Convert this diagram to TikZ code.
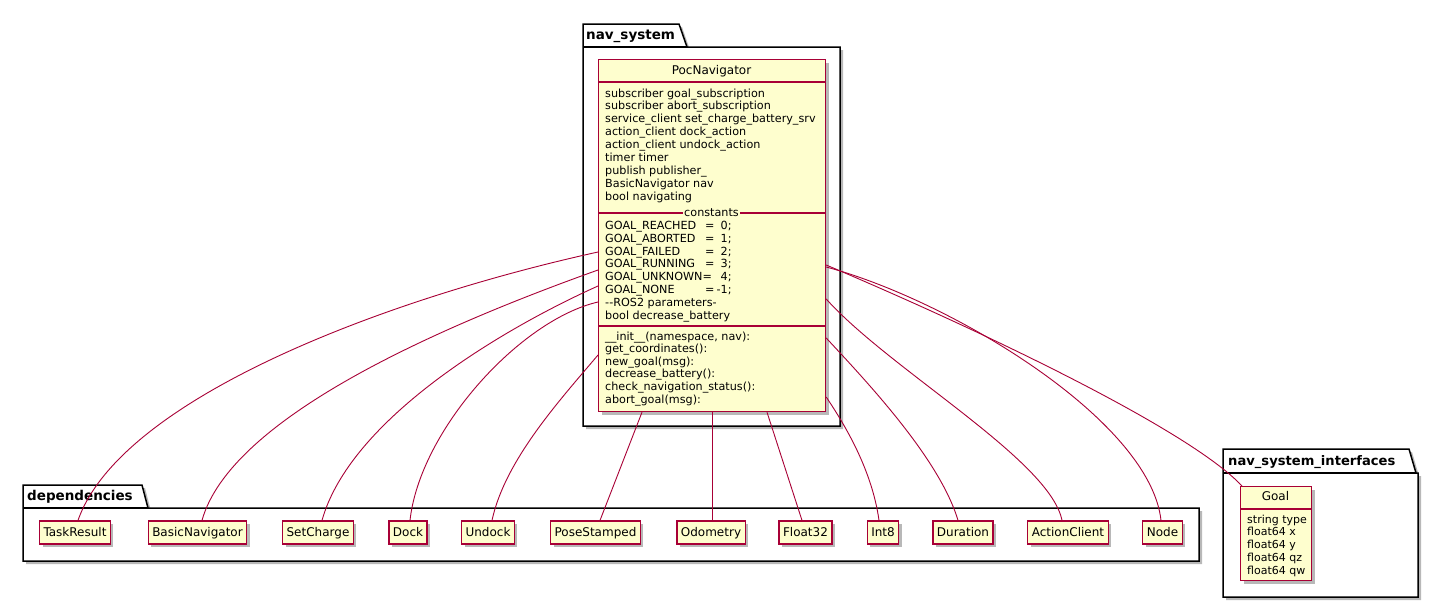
\documentclass[tikz,border=0pt]{standalone}
\usepackage{fontspec}
\setmainfont{DejaVu Sans}
\usetikzlibrary{calc,shadows}
\definecolor{umlfill}{HTML}{FEFECE}
\definecolor{umlline}{HTML}{A80036}
\begin{document}
\begin{tikzpicture}[x=1pt,y=-1pt,
  softshadow/.style={drop shadow={shadow xshift=3pt,shadow yshift=-3pt,fill=black,opacity=0.28}},
  pkgline/.style={draw=black,line width=1.5pt,fill=white,line join=miter,softshadow},
  pkgtitle/.style={anchor=base west,inner sep=0pt,font=\fontsize{13.5}{16}\selectfont\bfseries},
  classbox/.style={draw=umlline,fill=umlfill,line width=1.2pt,rectangle,inner sep=0pt,anchor=north west,softshadow},
  sepline/.style={draw=umlline,line width=1.2pt},
  depbox/.style={draw=umlline,fill=umlfill,line width=1.2pt,rectangle,inner xsep=4pt,inner ysep=0pt,
    minimum height=23pt,text height=9.5pt,text depth=2pt,font=\fontsize{12}{14}\selectfont,softshadow},
  member/.style={anchor=base west,inner sep=0pt,font=\fontsize{11.2}{13}\selectfont},
  cname/.style={anchor=base,inner sep=0pt,font=\fontsize{12}{14}\selectfont},
  link/.style={draw=umlline,line width=0.9pt},
]
\useasboundingbox (0,0) rectangle (1439,608);
\fill[white] (0,0) rectangle (1439,608);

% ---- packages ----
\path[pkgline] (583,24) -- (679,24) -- (687,47) -- (840,47) -- (840,426) -- (583,426) -- cycle;
\draw[line width=1.5pt] (583,47) -- (687,47);
\node[pkgtitle] (pkgnav) at (586,39) {nav\_system};

\path[pkgline] (23,485) -- (142,485) -- (148,508) -- (1199,508) -- (1199,561) -- (23,561) -- cycle;
\draw[line width=1.5pt] (23,508) -- (148,508);
\node[pkgtitle] (pkgdep) at (27,500) {dependencies};

\path[pkgline] (1223,449) -- (1409,449) -- (1416,473) -- (1418,473) -- (1418,597) -- (1223,597) -- cycle;
\draw[line width=1.5pt] (1223,473) -- (1416,473);
\node[pkgtitle,font=\fontsize{13.1}{16}\selectfont\bfseries] (pkgif) at (1228,465) {nav\_system\_interfaces};

% ---- class boxes (shapes only, text added later) ----
\node[classbox,minimum width=227pt,minimum height=352pt] (pn) at (598,59) {};
\node[classbox,minimum width=71pt,minimum height=94pt] (goal) at (1240,486) {};

% ---- dependency boxes ----
\node[depbox] (taskresult) at (75,532.5) {TaskResult};
\node[depbox] (basicnav) at (197.5,532.5) {BasicNavigator};
\node[depbox] (setcharge) at (318,532.5) {SetCharge};
\node[depbox] (dock) at (408,532.5) {Dock};
\node[depbox] (undock) at (488,532.5) {Undock};
\node[depbox] (posestamped) at (595.5,532.5) {PoseStamped};
\node[depbox] (odometry) at (711,532.5) {Odometry};
\node[depbox] (float32) at (805.5,532.5) {Float32};
\node[depbox] (int8) at (883,532.5) {Int8};
\node[depbox] (duration) at (963,532.5) {Duration};
\node[depbox] (actionclient) at (1068,532.5) {ActionClient};
\node[depbox] (rosnode) at (1162.5,532.5) {Node};

% ---- connectors ----
\draw[link] ($(pn.north west)+(0,193)$) .. controls (380,300) and (120,400) .. ([xshift=3pt]taskresult.north);
\draw[link] ($(pn.north west)+(0,211)$) .. controls (430,330) and (230,420) .. ([xshift=4.5pt]basicnav.north);
\draw[link] ($(pn.north west)+(0,227)$) .. controls (500,330) and (350,420) .. ([xshift=4pt]setcharge.north);
\draw[link] ($(pn.north west)+(0,243)$) .. controls (520,320) and (420,430) .. ([xshift=2pt]dock.north);
\draw[link] ($(pn.north west)+(0,296)$) .. controls (560,400) and (505,460) .. ([xshift=4pt]undock.north);
\draw[link] ($(pn.south west)+(44,0)$) -- ([xshift=4.5pt]posestamped.north);
\draw[link] ($(pn.south west)+(114,0)$) -- ([xshift=1pt]odometry.north);
\draw[link] ($(pn.south west)+(169,0)$) -- ([xshift=-3.5pt]float32.north);
\draw[link] ($(pn.north east)+(0,338)$) .. controls (845,425) and (872,470) .. ([xshift=-4pt]int8.north);
\draw[link] ($(pn.north east)+(0,279)$) .. controls (870,385) and (940,460) .. ([xshift=-5pt]duration.north);
\draw[link] ($(pn.north east)+(0,240)$) .. controls (890,370) and (1050,460) .. ([xshift=-6pt]actionclient.north);
\draw[link] ($(pn.north east)+(0,208)$) .. controls (950,300) and (1150,420) .. ([xshift=-1.5pt]rosnode.north);
\draw[link] ($(pn.north east)+(0,206)$) .. controls (980,330) and (1190,430) .. ($(goal.north west)+(2,0)$);

% ---- PocNavigator compartments ----
\draw[sepline] ($(pn.north west)+(0,23)$) -- ($(pn.north east)+(0,23)$);
\draw[sepline] ($(pn.north west)+(0,154)$) -- ($(pn.north east)+(0,154)$);
\draw[sepline] ($(pn.north west)+(0,267)$) -- ($(pn.north east)+(0,267)$);
\node[cname] (pnname) at (711.5,74) {PocNavigator};
\node[member,anchor=base,fill=umlfill,inner xsep=1.5pt] (pnconst) at (711.5,216.5) {constants};

\foreach \i/\txt in {0/subscriber goal\_subscription,
                     1/subscriber abort\_subscription,
                     2/service\_client set\_charge\_battery\_srv,
                     3/action\_client dock\_action,
                     4/action\_client undock\_action,
                     5/timer timer,
                     6/publish publisher\_,
                     7/BasicNavigator nav,
                     8/bool navigating}
  \node[member] (attr\i) at (605,97+12.9*\i) {\txt};

% constants: names padded so that the '=' and the values line up
\foreach \i/\nm/\val in {0/GOAL\_REACHED/0;,
                         1/GOAL\_ABORTED/1;,
                         2/GOAL\_FAILED/2;,
                         3/GOAL\_RUNNING/3;,
                         5/GOAL\_NONE/-1;}
  \node[member] (const\i) at (605,229.5+12.8*\i) {\makebox[100pt][l]{\nm}=\makebox[17pt][r]{\val}};
\node[member] (const4) at (605,229.5+12.8*4) {\makebox[109.4pt][l]{GOAL\_UNKNOWN=}\makebox[17pt][r]{4;}};
\node[member] (const6) at (605,229.5+12.8*6) {-{}-ROS2 parameters-};
\node[member] (const7) at (605,229.5+12.8*7) {bool decrease\_battery};

\node[member] (meth0) at (605,340) {\_\_init\_\_(namespace, nav):};
\node[member] (meth1) at (605,352.3) {get\_coordinates():};
\node[member] (meth2) at (605,365.1) {new\_goal(msg):};
\node[member] (meth3) at (605,377.9) {decrease\_battery():};
\node[member] (meth4) at (605,390.7) {check\_navigation\_status():};
\node[member] (meth5) at (605,403.5) {abort\_goal(msg):};

% ---- Goal compartments ----
\draw[sepline] ($(goal.north west)+(0,23)$) -- ($(goal.north east)+(0,23)$);
\node[cname] (goalname) at (1275.5,500.5) {Goal};
\foreach \i/\txt in {0/string type,1/float64 x,2/float64 y,3/float64 qz,4/float64 qw}
  \node[member,font=\fontsize{11}{13}\selectfont] (gattr\i) at (1247,523+12.9*\i) {\txt};
\end{tikzpicture}
\end{document}
